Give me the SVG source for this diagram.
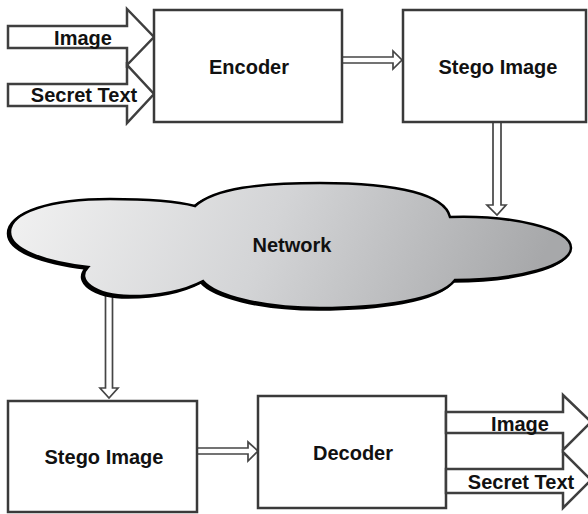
<svg xmlns="http://www.w3.org/2000/svg" width="588" height="514" viewBox="0 0 588 514">
<defs>
<linearGradient id="cloudFill" x1="0" y1="0" x2="1" y2="0.1">
<stop offset="0" stop-color="#f2f2f2"/>
<stop offset="0.5" stop-color="#d3d4d6"/>
<stop offset="1" stop-color="#a7a8aa"/>
</linearGradient>
<style>
.box{fill:#fff;stroke:#3a3a3a;stroke-width:2.5}
.blk{fill:#fff;stroke:#3f3f3f;stroke-width:2.5;stroke-linejoin:miter}
.dbl{fill:#fff;stroke:#454545;stroke-width:1.7;stroke-linejoin:miter}
.lbl{font-family:"Liberation Sans",Arial,sans-serif;font-weight:bold;font-size:20px;fill:#111}
.mid{text-anchor:middle}
</style>
</defs>
<g id="connectors">
<polygon class="dbl" points="342,57 393,57 393,51 402,60 393,69 393,63 342,63"/>
<polygon class="dbl" points="493,122 501,122 501,205 506,205 497,215 487,205 493,205"/>
<polygon class="dbl" points="105.5,293 112.5,293 112.5,388 118,388 109,398 100,388 105.5,388"/>
<polygon class="dbl" points="197,448 248,448 248,442 258,451 248,461 248,454 197,454"/>
</g>
<g id="in-image">
<polygon class="blk" points="8,26 127,26 127,9 154,37 127,65 127,48 8,48"/>
<text class="lbl mid" x="83" y="45">Image</text>
</g>
<g id="in-secret">
<polygon class="blk" points="8,84 127,84 127,65 154,94 127,123 127,106 8,106"/>
<text class="lbl mid" x="84" y="102">Secret Text</text>
</g>
<g id="encoder">
<rect class="box" x="154" y="10" width="188" height="112"/>
<text class="lbl mid" x="249" y="74">Encoder</text>
</g>
<g id="stego-top">
<rect class="box" x="403" y="10" width="183" height="112"/>
<text class="lbl mid" x="498" y="74">Stego Image</text>
</g>
<g id="network">
<path transform="translate(-2,1.5)" fill="#000" stroke="#000" stroke-width="2.5" d="M10,232 C10,212 50,199 110,199 C150,199 180,202 195,206 C215,188 260,183 320,183 C400,183 445,195 450,217 C510,215 571,228 571,248 C571,265 520,280 455,280 C440,300 380,308 320,308 C260,308 215,295 203,281 C180,293 150,296 130,296 C95,296 75,280 88,267 C45,262 10,250 10,232 Z"/>
<path fill="url(#cloudFill)" stroke="#000" stroke-width="2.5" d="M10,232 C10,212 50,199 110,199 C150,199 180,202 195,206 C215,188 260,183 320,183 C400,183 445,195 450,217 C510,215 571,228 571,248 C571,265 520,280 455,280 C440,300 380,308 320,308 C260,308 215,295 203,281 C180,293 150,296 130,296 C95,296 75,280 88,267 C45,262 10,250 10,232 Z"/>
<text class="lbl mid" x="292" y="252">Network</text>
</g>
<g id="stego-bottom">
<rect class="box" x="8" y="401" width="189" height="111"/>
<text class="lbl mid" x="104" y="464">Stego Image</text>
</g>
<g id="decoder">
<rect class="box" x="258" y="396" width="188" height="112"/>
<text class="lbl mid" x="353" y="460">Decoder</text>
</g>
<g id="out-image">
<polygon class="blk" points="446,412 563,412 563,395 591,422 563,450 563,433 446,433"/>
<text class="lbl mid" x="520" y="431">Image</text>
</g>
<g id="out-secret">
<polygon class="blk" points="446,469 563,469 563,452 591,480 563,508 563,493 446,493"/>
<text class="lbl mid" x="521" y="489">Secret Text</text>
</g>
</svg>
